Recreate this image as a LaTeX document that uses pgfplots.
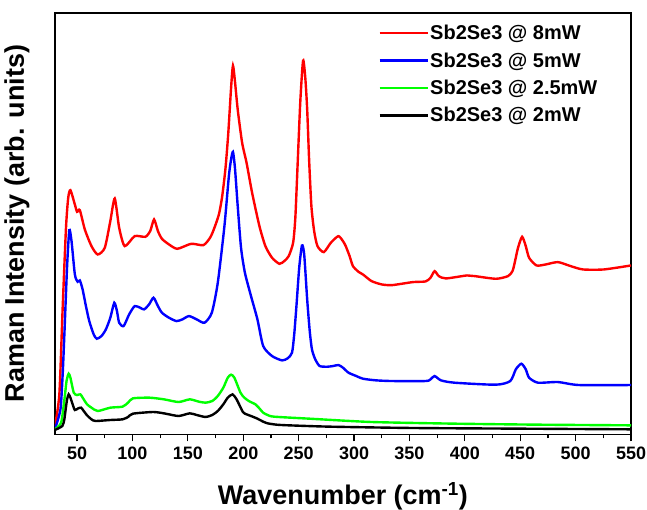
\documentclass[border=0pt]{standalone}
\usepackage{fontspec}
\setmainfont{Liberation Sans}
\usepackage{pgfplots}
\pgfplotsset{compat=1.18}
\usepackage{pgfplotstable}

% Raman spectra, intensities (arb. units)
\pgfplotstableread{
w I
30 25
34 120
37 380
40 620
42 710
44 733
48 690
50 668
52.5 673
57 615
63 565
68.6 540
75 560
80 640
84 708
88 620
93 565
102 595
111.6 593
116 610
119.5 645
123 610
126.6 587
133 570
140.5 557
153 572
164 568
170 590
173.4 615
178 660
181 715
184 800
186.5 905
189 1040
190.7 1107
192.5 1060
195 975
199 875
203 815
208 725
214.6 625
220 565
226 530
232.6 512
237 520
241 535
245 575
247 650
249 805
251.5 1000
254 1122
256 1070
257.7 975
259.5 820
261.5 685
264 610
267 565
272.7 547
279 575
285.8 595
290 580
292.5 565
296 535
299 505
304 488
308 480
315.8 460
325 450
334.5 448
353 457
364.5 459
369 470
372.7 490
376.5 475
383 468
402 477
409 475
428 467
439 475
443 490
445 515
448 560
451.7 593
455 565
458 530
464.7 507
473 510
484 517
495.5 505
506.6 495
525.5 495
550 507
}\redtab

\pgfplotstableread{
w I
30 15
35 75
37 180
38.6 305
41 505
43 613
45 580
48 480
50.5 458
52.5 462
55 435
58 385
61 340
65 300
67.8 287
72 295
76 315
80 350
83.6 395
86 370
88 335
92 325
97 360
102 385
107 380
110.5 375
115 390
119 410
123 385
126.6 365
133 350
139.7 340
145 345
151 355
158 345
165 335
171.6 365
177 455
183 625
187 775
189 825
190.7 848
192.5 800
195 685
198 560
201.5 485
207 415
212.8 345
218 265
226 235
235 222
240 228
244 245
246 300
248 385
250.5 500
253 567
255 540
257.7 405
260 310
262 255
265 225
269 205
276 203
281 205
286 208
290 200
295 185
302 175
308 167
320 162
334.5 160
364.5 160
369 165
372.7 175
378.5 162
390.7 155
428 149
441 160
446 195
451 212
455 195
458 170
466 155
484 157
503 148
550 148
}\bluetab

\pgfplotstableread{
w I
30 15
35.6 35
38.6 105
40.5 160
42.4 182
44 170
47 125
50 118
53 120
56 105
59 90
63 80
68.6 70
80 80
91 83
96 95
100.4 108
115.4 110
128.5 105
141.6 97
151.7 105
160 98
166 95
172 100
177 115
182 140
186 170
189 179
192 170
197.5 125
201 110
205 100
208 95
211 90
214 80
218 65
222 58
227.8 53
259.6 47
315.8 37
390.7 32
466 29
550 27
}\greentab

\pgfplotstableread{
w I
30 13
36.7 25
38.5 45
39.7 75
41 105
42.4 120
44 110
46 90
48 73
51 78
53.6 80
56 70
59 57
63 45
66.7 40
80 43
91 45
96 52
100.4 62
119 67
130 62
141.6 55
151.7 63
158 58
166 52
172 58
177 70
182 90
186 110
190.3 120
194 105
199.7 67
203 60
207 55
212.8 47
218 38
222 33
230 29
241 27
278 23
353 19
450 17
550 15
}\blacktab

\begin{document}
\begin{tikzpicture}
\useasboundingbox (-55pt,-75pt) rectangle (593pt,435pt);
\begin{axis}[
  scale only axis,
  width=577pt, height=422pt,
  xmin=30, xmax=550,
  ymin=0, ymax=1265,
  xtick={50,100,...,550},
  minor x tick num=1,
  ytick=\empty,
  xtick pos=bottom,
  tick align=outside,
  major tick length=7pt,
  minor tick length=4pt,
  every tick/.style={black, line width=1.2pt},
  axis line style={line width=1.5pt},
  /pgf/number format/assume math mode=true,
  ticklabel style={font=\fontsize{18}{18}\selectfont\bfseries},
  xticklabel style={yshift=-2pt},
  xlabel={Wavenumber (cm\textsuperscript{-1})},
  ylabel={Raman Intensity (arb. units)},
  label style={font=\fontsize{27}{27}\selectfont\bfseries},
  xlabel style={at={(axis description cs:0.5,-0.166)}, anchor=base},
  ylabel style={at={(axis description cs:-0.066,0.5)}, anchor=center},
  legend style={draw=none, fill=none, at={(0.556,0.98)}, anchor=north west,
    font=\fontsize{20}{25}\selectfont\bfseries,
    row sep=8.5pt,
    nodes={inner sep=1.5pt}},
  legend cell align=left,
  legend image code/.code={\draw[#1] (0pt,0pt) -- (48pt,0pt);},
  every axis plot/.append style={line width=2.4pt, smooth, tension=0.4},
]
\addplot[red] table[x=w, y=I] {\redtab};
\addlegendentry{Sb2Se3 @ 8mW}
\addplot[blue] table[x=w, y=I] {\bluetab};
\addlegendentry{Sb2Se3 @ 5mW}
\addplot[green] table[x=w, y=I] {\greentab};
\addlegendentry{Sb2Se3 @ 2.5mW}
\addplot[black] table[x=w, y=I] {\blacktab};
\addlegendentry{Sb2Se3 @ 2mW}
\end{axis}
\end{tikzpicture}
\end{document}
